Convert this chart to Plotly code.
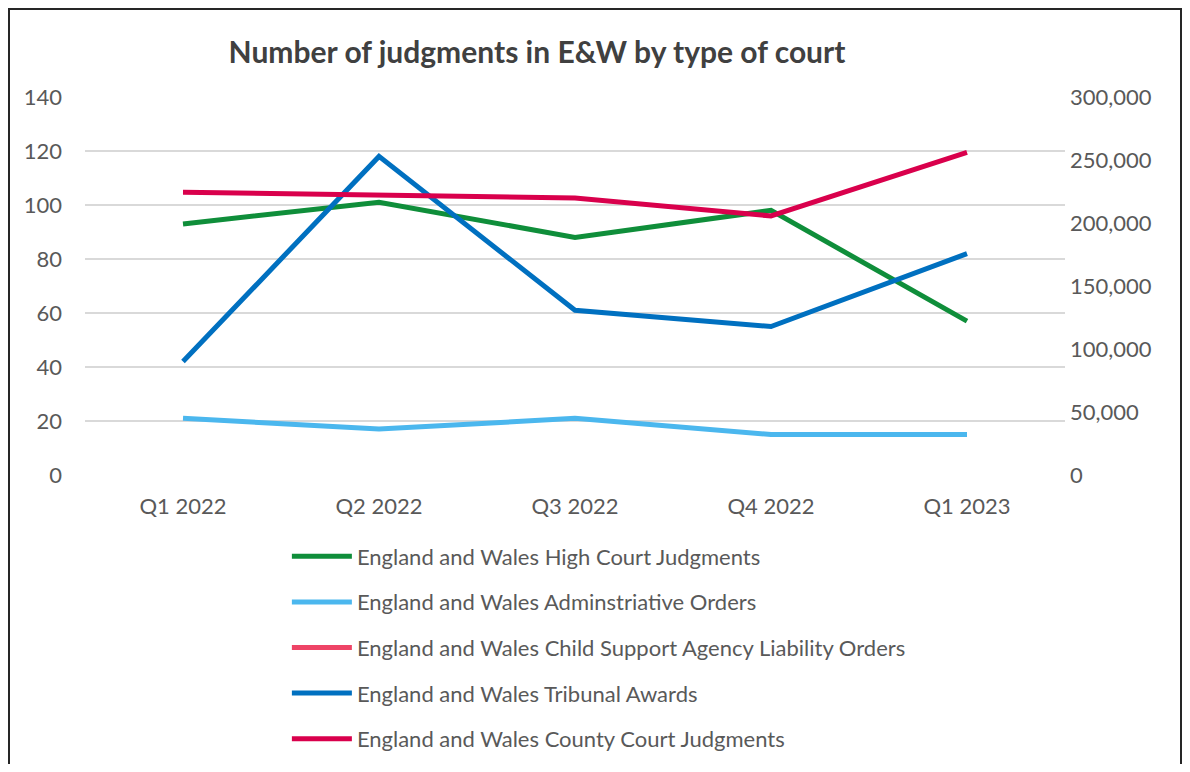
import plotly.graph_objects as go

quarters = ["Q1 2022", "Q2 2022", "Q3 2022", "Q4 2022", "Q1 2023"]
high_court = [93, 101, 88, 98, 57]
admin_orders = [21, 17, 21, 15, 15]
csa_orders = [None, None, None, None, None]
tribunal = [42, 118, 61, 55, 82]
county_court = [224400, 222200, 219800, 205600, 256100]

left_ticks = [0, 20, 40, 60, 80, 100, 120, 140]
right_ticks = [0, 50000, 100000, 150000, 200000, 250000, 300000]

FONT = "Lato, 'Noto Sans', sans-serif"
GREY = "#595959"

# browser body margin is ~8px; figure sized to fit the window without overflow
W, H = 1174, 756
L, T = 77, 89
PW, PH = 980, 378

fig = go.Figure()
series = [
    ("England and Wales High Court Judgments", high_court, "#0F8E3A", "y"),
    ("England and Wales Adminstriative Orders", admin_orders, "#4BB7EE", "y"),
    ("England and Wales Child Support Agency Liability Orders", csa_orders, "#EE4466", "y"),
    ("England and Wales Tribunal Awards", tribunal, "#0070C0", "y"),
    ("England and Wales County Court Judgments", county_court, "#D9004C", "y2"),
]
for i, (name, vals, col, ax) in enumerate(series):
    fig.add_trace(go.Scatter(
        x=quarters, y=vals, name=name, mode="lines", yaxis=ax,
        line=dict(color=col, width=5), legendgroup=f"g{i}",
    ))

fig.update_layout(
    width=W, height=H,
    margin=dict(l=L, r=W - L - PW, t=T, b=H - T - PH, autoexpand=False),
    paper_bgcolor="white", plot_bgcolor="white",
    font=dict(family=FONT, size=22, color=GREY),
    title=dict(text="<b>Number of judgments in E&W by type of court</b>",
               x=(537 - 85) / PW, xref="paper", xanchor="center",
               y=1 - 44 / H, yanchor="middle",
               font=dict(family=FONT, size=30, color="#404040")),
    xaxis=dict(range=[-0.5, 4.5], showgrid=False, showline=False, zeroline=False,
               ticks="", ticklabelstandoff=16, tickfont=dict(size=22, color=GREY)),
    yaxis=dict(range=[0, 140], tickvals=left_ticks, showgrid=True,
               gridcolor="#D9D9D9", gridwidth=1.5, zeroline=False, showline=False,
               ticks="", ticklabelstandoff=22, tickfont=dict(size=22, color=GREY)),
    yaxis2=dict(range=[0, 300000], tickvals=right_ticks, overlaying="y", side="right",
                showgrid=False, zeroline=False, showline=False, tickformat=",",
                ticks="", ticklabelstandoff=4, tickfont=dict(size=22, color=GREY)),
    legend=dict(x=0.206, xanchor="left", y=-0.16, yanchor="top",
                orientation="v", tracegroupgap=14, bgcolor="rgba(0,0,0,0)",
                font=dict(size=22, color=GREY), itemwidth=60),
    showlegend=True,
)

fig.add_shape(type="rect", xref="paper", yref="paper",
              x0=(1 - L) / PW, x1=(W - 1 - L) / PW,
              y0=-(800 - T - PH) / PH, y1=(T + PH - 1) / PH,
              line=dict(color="#262626", width=2), layer="below")

fig.write_html("out.html")
